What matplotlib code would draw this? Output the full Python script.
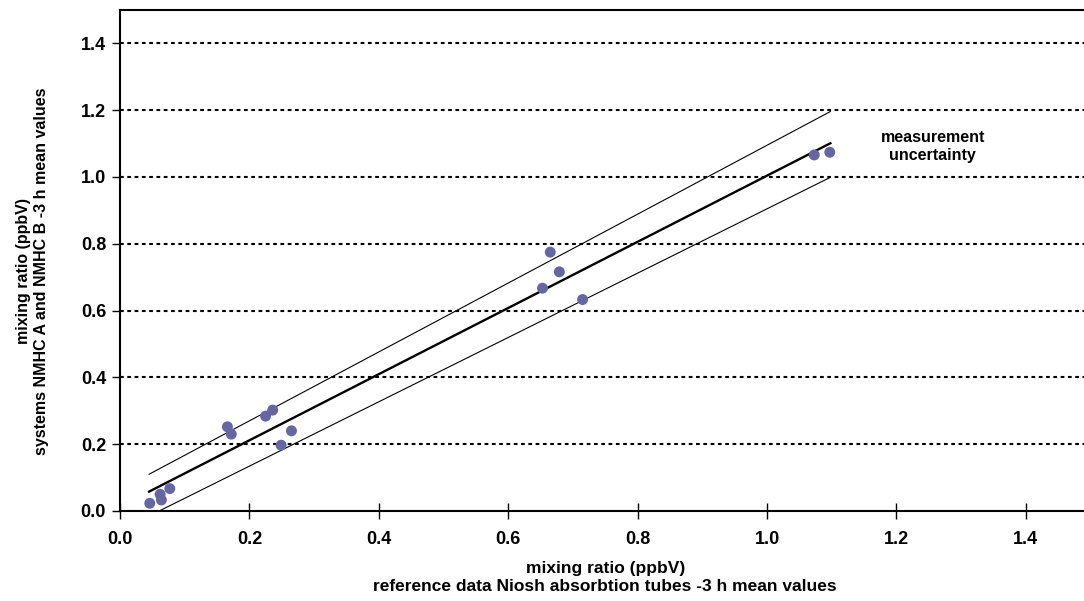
import matplotlib.pyplot as plt
import numpy as np

plt.rcParams['font.family'] = ['Liberation Sans', 'DejaVu Sans']
plt.rcParams['font.weight'] = 'bold'

# measured points (reference tubes vs NMHC systems), ppbV
ref_x = [0.046, 0.062, 0.064, 0.077, 0.166, 0.172, 0.225, 0.236, 0.249, 0.265,
         0.653, 0.665, 0.679, 0.715, 1.073, 1.097]
sys_y = [0.023, 0.050, 0.033, 0.067, 0.252, 0.230, 0.284, 0.302, 0.197, 0.240,
         0.667, 0.775, 0.716, 0.633, 1.066, 1.074]

# regression line and uncertainty band (end points)
fit_x = [0.045, 1.098]
fit_y = [0.058, 1.101]
upper_x = [0.045, 1.098]
upper_y = [0.110, 1.196]
lower_x = [0.045, 1.098]
lower_y = [-0.015, 0.999]

xticks = [0.0, 0.2, 0.4, 0.6, 0.8, 1.0, 1.2, 1.4]
yticks = [0.0, 0.2, 0.4, 0.6, 0.8, 1.0, 1.2, 1.4]

fig = plt.figure(figsize=(10.84, 6.01), dpi=100)
ax = fig.add_axes([0.1107, 0.1498, 0.8953, 0.8336])

for yv in yticks[1:]:
    ax.axhline(yv, color='black', lw=1.5, ls=(0, (1.8, 1.7)), zorder=1)

ax.plot(upper_x, upper_y, color='black', lw=0.8, zorder=2)
ax.plot(lower_x, lower_y, color='black', lw=0.8, zorder=2)
ax.plot(fit_x, fit_y, color='black', lw=1.7, zorder=2)
ax.scatter(ref_x, sys_y, s=62, color='#6666a0', edgecolors='none', zorder=3)

ax.text(1.256, 1.09, 'measurement\nuncertainty', ha='center', va='center',
        fontsize=11.5, fontweight='bold', linespacing=1.25)

ax.set_xlim(0, 1.5)
ax.set_ylim(0, 1.5)
ax.set_xticks(xticks)
ax.set_yticks(yticks)
ax.set_xticklabels([f'{v:.1f}' for v in xticks], fontsize=13, fontweight='bold')
ax.set_yticklabels([f'{v:.1f}' for v in yticks], fontsize=13, fontweight='bold')
ax.tick_params(axis='x', direction='inout', length=11, width=1, pad=9)
ax.tick_params(axis='y', direction='out', length=6, width=1, pad=4)
for s in ax.spines.values():
    s.set_linewidth(1.5)

ax.set_xlabel('mixing ratio (ppbV)\nreference data Niosh absorbtion tubes -3 h mean values',
              fontsize=12.5, fontweight='bold', labelpad=9, linespacing=1.25)
ax.set_ylabel('mixing ratio (ppbV)\nsystems NMHC A and NMHC B -3 h mean values',
              fontsize=11.5, fontweight='bold', linespacing=1.3)
ax.yaxis.set_label_coords(-0.073, 0.479)

fig.savefig('out.png', dpi=100)
